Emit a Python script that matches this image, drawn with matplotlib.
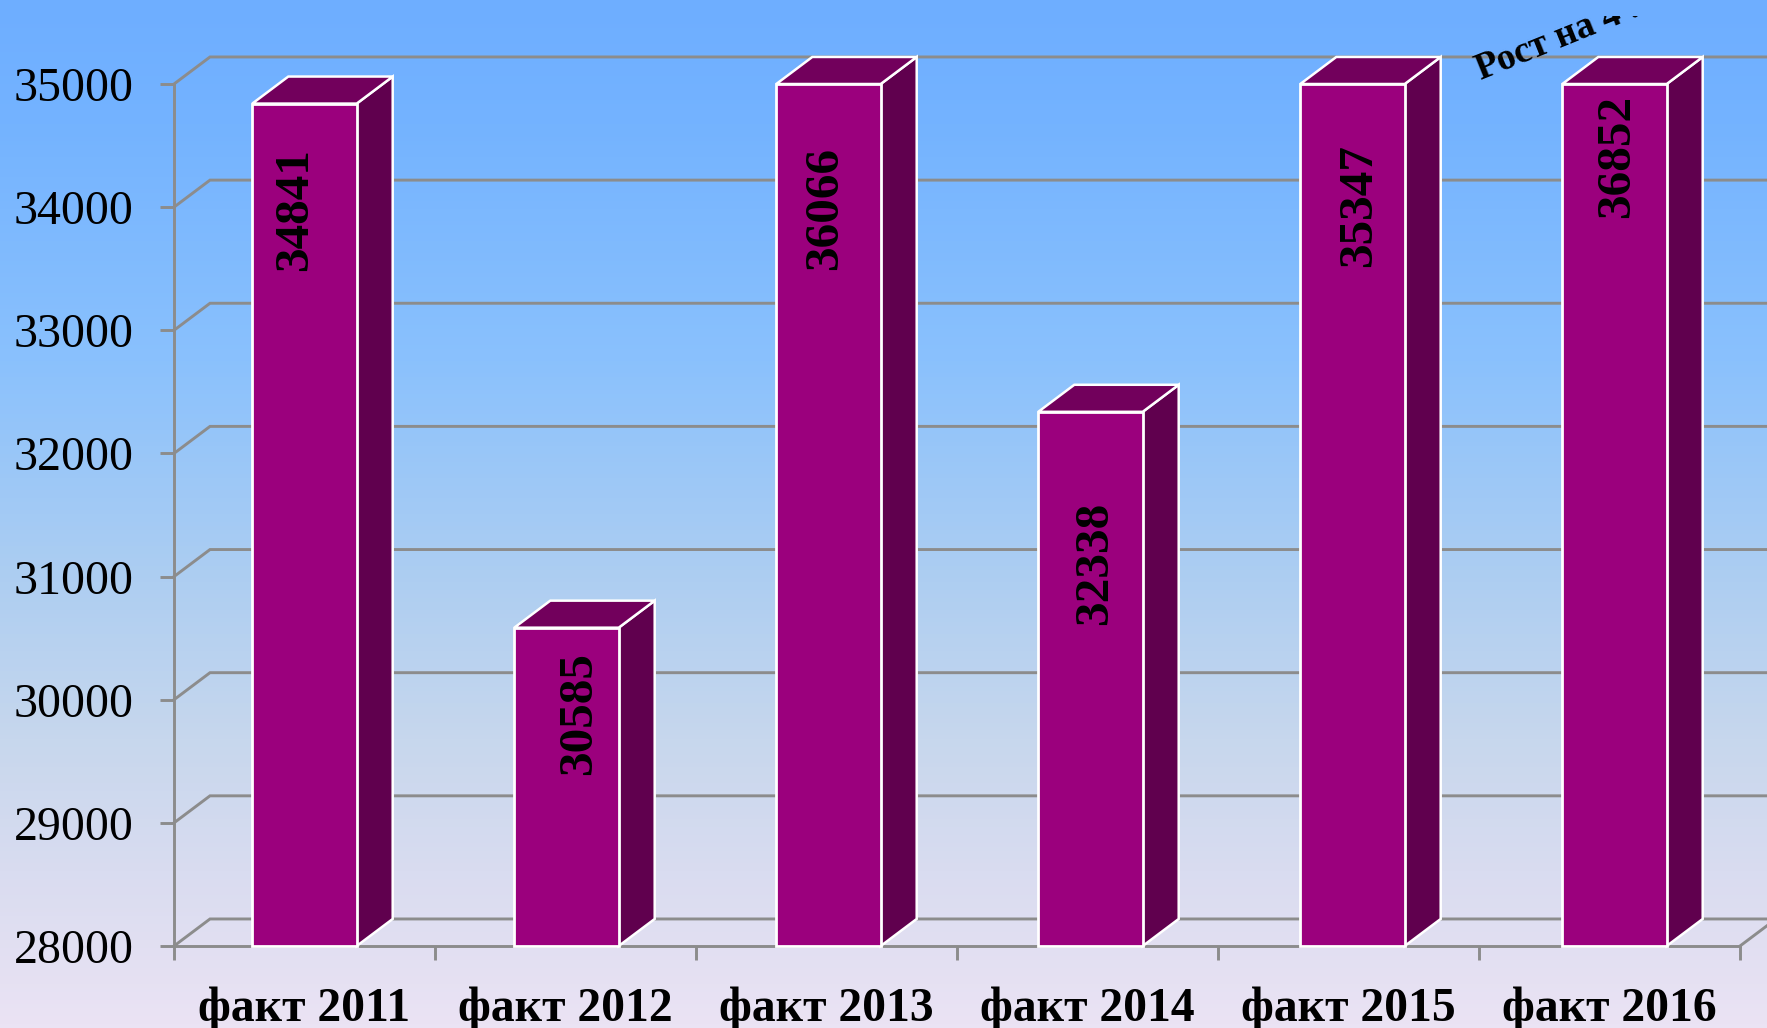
import numpy as np
import matplotlib.pyplot as plt
from matplotlib.colors import LinearSegmentedColormap
from matplotlib.patches import Polygon, Rectangle

# data
categories = ["факт 2011", "факт 2012", "факт 2013", "факт 2014", "факт 2015", "факт 2016"]
values = [34841, 30585, 36066, 32338, 35347, 36852]
y_ticks = [28000, 29000, 30000, 31000, 32000, 33000, 34000, 35000]
note_text = "Рост на 4 ."

# label shift from the bar top and bar centre, in pixels
label_drop = [106, 86, 124, 152, 122, 72]
label_shift = [-9, 13, -3, 5, 7, 3]

# style
W, H = 1767, 1028
FRONT = "#9b007d"
SIDE = "#60004e"
TOP = "#72005c"
GRID = "#8c8c8c"
y_min, y_max = 28000, 35000
bar_w = 0.4
bar_step = 262 / 261        # bars run a bit wider than the ticks
depth_x = 36 / 261          # 3d depth in category units
depth_y = 27 / 123 * 1000   # 3d depth in value units

plt.rcParams["font.family"] = ["Liberation Serif", "DejaVu Serif"]

fig = plt.figure(figsize=(W / 100, H / 100), dpi=100)

# background gradient
bg = fig.add_axes([0, 0, 1, 1], zorder=-1)
cmap = LinearSegmentedColormap.from_list("bg", [
    (0.0, "#6eaeff"), (0.12, "#74b3ff"), (0.35, "#8ac1fd"),
    (0.55, "#abcdf2"), (0.72, "#c7d7ed"), (0.85, "#d9dcf0"), (1.0, "#ebe3f4"),
])
bg.imshow(np.linspace(0, 1, 256).reshape(-1, 1), aspect="auto", cmap=cmap)
bg.axis("off")

ax = fig.add_axes([174 / W, (H - 946) / H, 1566 / W, 862 / H])
ax.patch.set_alpha(0)
ax.set_xlim(0, 6)
ax.set_ylim(y_min, y_max)

# back wall lines
for v in y_ticks:
    ax.plot([0, depth_x, 6.4], [v, v + depth_y, v + depth_y], color=GRID, lw=2.1,
            clip_on=False, zorder=1, solid_joinstyle="miter")
ax.plot([6, 6 + depth_x], [y_min, y_min + depth_y], color=GRID, lw=2.1, clip_on=False, zorder=1)

# bars, the axis stops at 35000 so taller ones get cut there
pos = 0.5 + np.arange(len(values)) * bar_step
heights = np.minimum(values, y_max)
ax.bar(pos, heights - y_min, bottom=y_min, width=bar_w, color=FRONT,
       edgecolor="white", linewidth=2.0, zorder=3, clip_on=False)
for x, h in zip(pos, heights):
    l, r = x - bar_w / 2, x + bar_w / 2
    ax.add_patch(Polygon([(r, y_min), (r + depth_x, y_min + depth_y),
                          (r + depth_x, h + depth_y), (r, h)],
                         facecolor=SIDE, edgecolor="white", lw=1.8, zorder=2.5, clip_on=False))
    ax.add_patch(Polygon([(l, h), (l + depth_x, h + depth_y),
                          (r + depth_x, h + depth_y), (r, h)],
                         facecolor=TOP, edgecolor="white", lw=1.8, zorder=2.5, clip_on=False))

# value labels
for x, h, v, drop, shift in zip(pos, heights, values, label_drop, label_shift):
    ax.annotate(str(v), (x, h), xytext=(shift * 0.72, -drop * 0.72), textcoords="offset points",
                rotation=90, ha="center", va="center", fontsize=35.5,
                fontweight="bold", color="black", zorder=4)

# axes
for s in ["top", "right"]:
    ax.spines[s].set_visible(False)
for s in ["left", "bottom"]:
    ax.spines[s].set_color(GRID)
    ax.spines[s].set_linewidth(2.1)
    ax.spines[s].set_zorder(1.5)
ax.set_yticks(y_ticks)
ax.set_yticklabels([str(v) for v in y_ticks])
ax.tick_params(axis="y", length=10, width=2.1, color=GRID, pad=19, labelsize=34.5)
ax.set_xticks(range(7))
ax.set_xticklabels([])
ax.tick_params(axis="x", which="major", length=10, width=2.1, color=GRID)
ax.set_xticks(np.arange(6) + 0.5, minor=True)
ax.set_xticklabels(categories, minor=True, fontweight="bold", fontsize=34.3)
ax.tick_params(axis="x", which="minor", length=0, pad=29)

# cut off note at the top right
note = fig.text(1481 / W, (H - 80) / H, note_text, rotation=22, rotation_mode="anchor",
                ha="left", va="baseline", fontsize=27, fontweight="bold", color="black", zorder=5)
note.set_clip_path(Rectangle((1400, H - 240), 300, 224, transform=None))
note.set_clip_on(True)

fig.savefig("out.png", dpi=100)
